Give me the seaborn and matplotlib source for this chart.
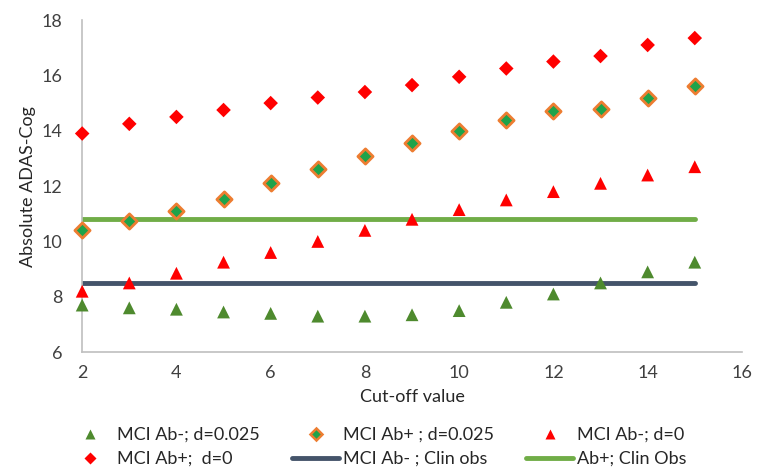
import pandas as pd
import matplotlib
matplotlib.use("Agg")
import matplotlib.pyplot as plt
import seaborn as sns
from matplotlib.lines import Line2D

# =========================================================
# DATA
# =========================================================

cutoff = [2, 3, 4, 5, 6, 7, 8, 9, 10, 11, 12, 13, 14, 15]

ab_neg_d025 = [7.7, 7.6, 7.55, 7.45, 7.4, 7.3, 7.3, 7.35, 7.5, 7.8, 8.1, 8.5, 8.9, 9.25]
ab_pos_d025 = [10.4, 10.75, 11.1, 11.55, 12.1, 12.6, 13.1, 13.55, 14.0, 14.4, 14.7, 14.8, 15.2, 15.6]
ab_neg_d0 = [8.2, 8.5, 8.85, 9.25, 9.6, 10.0, 10.4, 10.8, 11.15, 11.5, 11.8, 12.1, 12.4, 12.7]
ab_pos_d0 = [13.9, 14.25, 14.5, 14.75, 15.0, 15.2, 15.4, 15.65, 15.95, 16.25, 16.5, 16.7, 17.1, 17.35]

clin_obs_neg = 8.5
clin_obs_pos = 10.8

labels = ["MCI Ab-; d=0.025", "MCI Ab+ ; d=0.025", "MCI Ab-; d=0",
          "MCI Ab+;  d=0", "MCI Ab- ; Clin obs", "Ab+; Clin Obs"]

# =========================================================
# PLOT
# =========================================================

sns.set_style("white")
plt.rcParams['font.family'] = ['Lato', 'DejaVu Sans']

fig = plt.figure(figsize=(7.68, 4.67), dpi=100)
ax = fig.add_axes([0.107, 0.246, 0.859, 0.711])

df_line = pd.DataFrame({
    "x": [cutoff[0], cutoff[-1]] * 2,
    "y": [clin_obs_neg, clin_obs_neg, clin_obs_pos, clin_obs_pos],
    "grp": ["neg", "neg", "pos", "pos"],
})
sns.lineplot(data=df_line[df_line.grp == "neg"], x="x", y="y", color="#44546a",
             linewidth=3.5, ax=ax, zorder=1)
sns.lineplot(data=df_line[df_line.grp == "pos"], x="x", y="y", color="#70ad47",
             linewidth=3.5, ax=ax, zorder=1)

sns.scatterplot(x=cutoff, y=ab_neg_d025, marker="^", s=85, color="#4e8a2e",
                edgecolor="none", ax=ax, zorder=3, clip_on=False)
sns.scatterplot(x=cutoff, y=ab_pos_d025, marker="D", s=60, color="#1ea34a",
                edgecolor="#ed7d31", linewidth=2, ax=ax, zorder=3, clip_on=False)
sns.scatterplot(x=cutoff, y=ab_neg_d0, marker="^", s=85, color="#ff0000",
                edgecolor="none", ax=ax, zorder=3, clip_on=False)
sns.scatterplot(x=cutoff, y=ab_pos_d0, marker="D", s=55, color="#ff0000",
                edgecolor="none", ax=ax, zorder=3, clip_on=False)

ax.set_xlim(2, 16)
ax.set_ylim(6, 18)
ax.set_xticks(range(2, 17, 2))
ax.set_yticks(range(6, 19, 2))
ax.tick_params(axis="both", labelsize=13, colors="#404040", length=0)
ax.tick_params(axis="y", pad=14)
ax.tick_params(axis="x", pad=9)
ax.set_xlabel("Cut-off value", fontsize=13, color="#262626", labelpad=6)
ax.set_ylabel("Absolute ADAS-Cog", fontsize=13, color="#262626", labelpad=4)

for side in ["top", "right"]:
    ax.spines[side].set_visible(False)
for side in ["left", "bottom"]:
    ax.spines[side].set_color("#bfbfbf")
    ax.spines[side].set_linewidth(1.2)

# ---- Legend (row-wise order like the reference) ----
h = {
    0: Line2D([], [], ls="none", marker="^", ms=7, color="#4e8a2e", mec="none"),
    1: Line2D([], [], ls="none", marker="D", ms=6, color="#1ea34a", mec="#ed7d31", mew=1.8),
    2: Line2D([], [], ls="none", marker="^", ms=7, color="#ff0000", mec="none"),
    3: Line2D([], [], ls="none", marker="D", ms=6, color="#ff0000", mec="none"),
    4: Line2D([], [], color="#44546a", lw=3.5),
    5: Line2D([], [], color="#70ad47", lw=3.5),
}
order = [0, 3, 1, 4, 2, 5]
fig.legend([h[i] for i in order], [labels[i] for i in order],
           loc="lower center", bbox_to_anchor=(0.49, -0.035), ncol=3, frameon=False,
           fontsize=13, handlelength=2.6, columnspacing=1.8, handletextpad=0.2,
           labelspacing=0.45)

plt.savefig("out.png", dpi=100)
plt.close()
